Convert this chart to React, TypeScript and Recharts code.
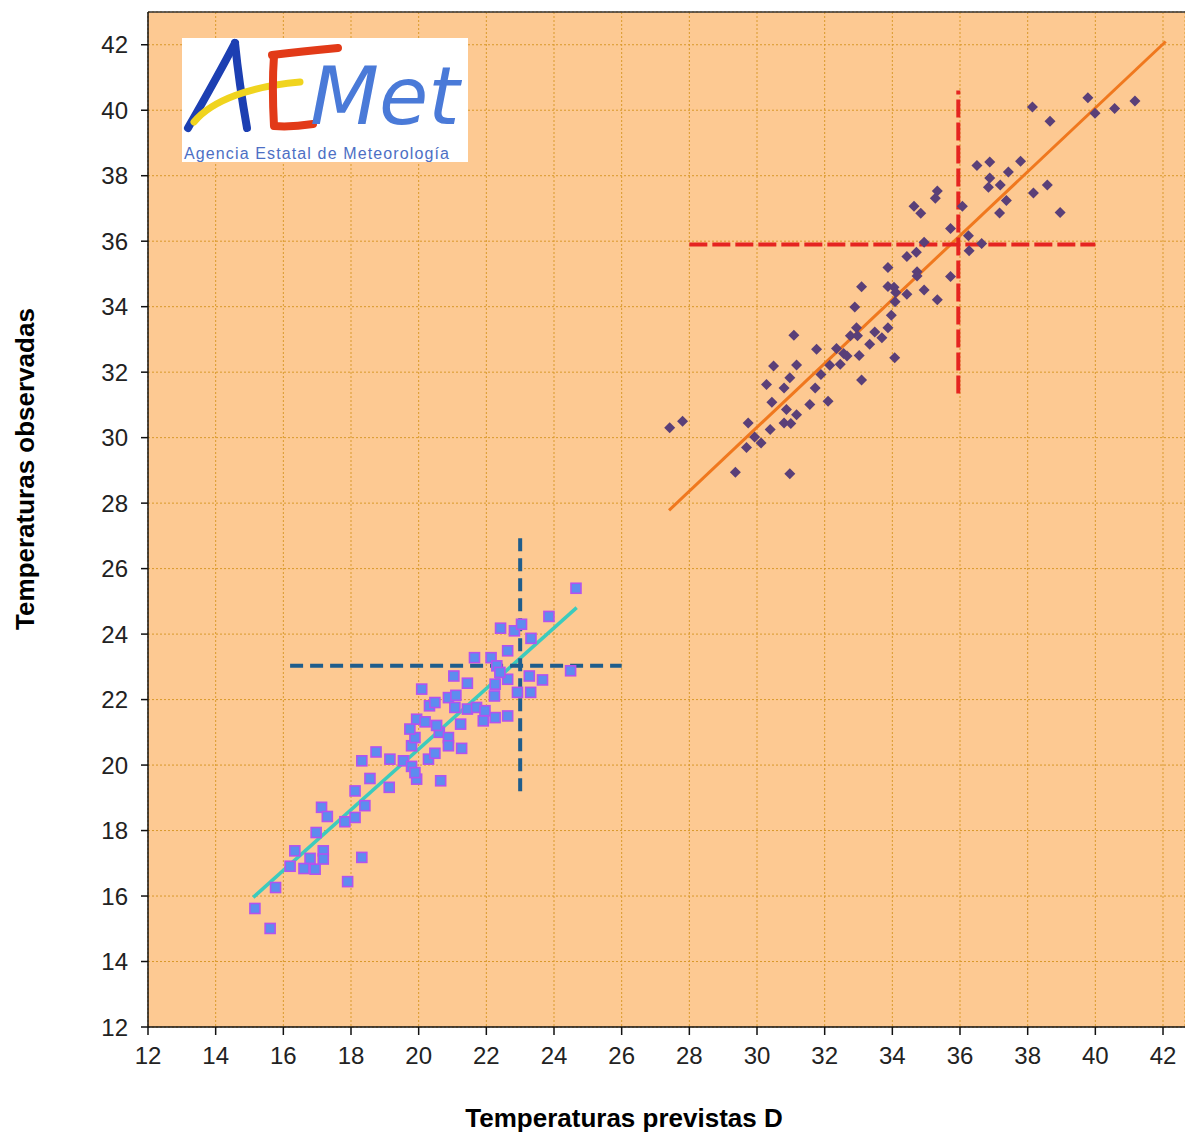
import {
  ScatterChart,
  Scatter,
  XAxis,
  YAxis,
  CartesianGrid,
  ReferenceLine,
  Label,
} from "recharts";

// observed vs forecast, winter-ish group (squares)
const squareX = [
  15.16, 15.61, 15.77, 16.2, 16.34, 16.61, 16.94, 16.79, 17.18, 17.18, 16.97, 17.13, 17.3, 17.9, 18.32,
  17.82, 18.12, 18.41, 18.12, 18.32, 18.74, 18.56, 19.13, 19.15, 19.55, 19.79, 19.79, 19.94, 19.89, 19.89,
  20.29, 20.48, 20.65, 19.94, 20.19, 20.09, 20.32, 20.48, 20.88, 21.1, 21.07, 20.61, 20.88, 20.88, 21.24,
  21.27, 21.04, 21.44, 21.44, 21.71, 21.91, 21.96, 22.26, 22.24, 22.26, 21.65, 22.14, 22.63, 22.31, 22.63,
  22.63, 22.92, 23.31, 23.27, 23.66, 24.49, 22.42, 22.83, 23.04, 23.32, 23.85, 24.65, 22.4, 20.53, 19.74,
];
const squareY = [
  15.62, 15.01, 16.26, 16.91, 17.38, 16.84, 16.82, 17.15, 17.38, 17.13, 17.94, 18.71, 18.43, 16.44, 17.18,
  18.27, 18.4, 18.76, 19.21, 20.13, 20.4, 19.59, 19.32, 20.18, 20.13, 19.96, 20.59, 19.57, 19.77, 20.84,
  20.18, 20.36, 19.52, 21.4, 21.32, 22.32, 21.81, 21.91, 22.06, 22.13, 21.76, 21.0, 20.84, 20.59, 21.25,
  20.51, 22.72, 22.5, 21.71, 21.76, 21.35, 21.66, 21.45, 22.11, 22.47, 23.28, 23.28, 23.49, 23.03, 22.62,
  21.5, 22.22, 22.22, 22.72, 22.6, 22.88, 24.18, 24.1, 24.3, 23.87, 24.54, 25.4, 22.83, 21.21, 21.1,
];

// summer-ish group (diamonds)
const diamondX = [
  27.42, 27.8, 29.36, 30.97, 29.74, 29.69, 29.93, 30.12, 30.39, 30.49, 30.28, 30.44, 30.8, 30.97, 31.17,
  31.09, 30.87, 30.8, 31.0, 31.17, 31.56, 31.72, 31.76, 31.89, 32.1, 32.15, 32.46, 32.56, 32.66, 32.76,
  32.97, 33.02, 33.09, 32.89, 33.09, 33.33, 33.48, 33.69, 33.87, 33.97, 34.07, 34.08, 33.87, 34.05, 33.87,
  34.43, 34.43, 34.71, 34.73, 34.73, 34.94, 35.33, 34.94, 34.64, 34.84, 35.27, 35.33, 35.72, 35.72, 36.07,
  36.25, 36.27, 36.64, 36.5, 36.88, 36.88, 36.84, 37.19, 37.43, 37.37, 37.17, 37.79, 38.14, 38.66, 38.17,
  38.58, 38.96, 39.78, 39.99, 40.57, 41.17, 32.35, 32.94, 34.1,
];
const diamondY = [
  30.3, 30.5, 28.94, 28.9, 30.45, 29.7, 30.02, 29.84, 30.25, 32.19, 31.62, 31.08, 31.52, 31.83, 32.22,
  33.13, 30.86, 30.45, 30.43, 30.7, 31.01, 31.52, 32.7, 31.93, 31.11, 32.21, 32.24, 32.57, 32.49, 33.11,
  33.11, 32.51, 31.76, 33.99, 34.61, 32.85, 33.23, 33.05, 33.36, 33.74, 32.44, 34.15, 34.62, 34.59, 35.2,
  34.38, 35.53, 35.66, 35.07, 34.94, 34.51, 34.21, 35.97, 37.07, 36.85, 37.31, 37.53, 36.39, 34.92, 37.07,
  36.17, 35.71, 35.93, 38.31, 38.42, 37.93, 37.65, 37.72, 38.11, 37.24, 36.86, 38.44, 40.1, 39.66, 37.47,
  37.72, 36.88, 40.38, 39.91, 40.05, 40.28, 32.72, 33.36, 34.43,
];

// fitted lines and reference crosses
const blueFit = [
  { x: 15.11, y: 15.96 },
  { x: 24.67, y: 24.81 },
];
const orangeFit = [
  { x: 27.4, y: 27.78 },
  { x: 42.08, y: 42.1 },
];
const blueCrossH = [
  { x: 16.2, y: 23.03 },
  { x: 26.0, y: 23.03 },
];
const blueCrossV = [
  { x: 23.0, y: 19.2 },
  { x: 23.0, y: 27.0 },
];
const redCrossH = [
  { x: 28.0, y: 35.9 },
  { x: 40.0, y: 35.9 },
];
const redCrossV = [
  { x: 35.95, y: 31.35 },
  { x: 35.95, y: 40.6 },
];

const ticks = [12, 14, 16, 18, 20, 22, 24, 26, 28, 30, 32, 34, 36, 38, 40, 42];

const squares = squareX.map((x, i) => ({ x, y: squareY[i] }));
const diamonds = diamondX.map((x, i) => ({ x, y: diamondY[i] }));

const SquareDot = (props: { cx?: number; cy?: number }) => {
  const { cx, cy } = props;
  if (cx === undefined || cy === undefined) return null;
  return (
    <rect x={cx - 5} y={cy - 5} width={10} height={10} fill="#5d8cef" stroke="#b452ef" strokeWidth={1.6} />
  );
};

const DiamondDot = (props: { cx?: number; cy?: number }) => {
  const { cx, cy } = props;
  if (cx === undefined || cy === undefined) return null;
  const r = 5.5;
  return (
    <polygon
      points={`${cx},${cy - r} ${cx + r},${cy} ${cx},${cy + r} ${cx - r},${cy}`}
      fill="#5a3f78"
    />
  );
};

const XTitle = (props: { viewBox?: { x: number; y: number; width: number; height: number } }) => {
  const vb = props.viewBox;
  if (!vb) return null;
  return (
    <text x={624} y={vb.y + 100} textAnchor="middle" fontWeight="bold" fontSize={26} fill="#000">
      Temperaturas previstas D
    </text>
  );
};

const YTitle = () => (
  <text
    x={34}
    y={469}
    transform="rotate(-90 34 469)"
    textAnchor="middle"
    fontWeight="bold"
    fontSize={26}
    fill="#000"
  >
    Temperaturas observadas
  </text>
);

function Logo() {
  return (
    <svg
      width={286}
      height={124}
      style={{ position: "absolute", left: 182, top: 38 }}
      viewBox="0 0 286 124"
    >
      <rect x={0} y={0} width={286} height={124} fill="#fff" />
      {/* A */}
      <path d="M6 90 C 22 62, 40 30, 53 5" stroke="#1c3fb2" strokeWidth={8} fill="none" strokeLinecap="round" />
      <path d="M53 5 C 56 35, 60 62, 65 90" stroke="#1c3fb2" strokeWidth={8} fill="none" strokeLinecap="round" />
      {/* yellow swoosh */}
      <path d="M12 84 C 30 62, 70 48, 118 44" stroke="#f0d41e" strokeWidth={7} fill="none" strokeLinecap="round" />
      {/* E */}
      <path d="M90 17 C 115 14, 135 12, 156 10" stroke="#e23a18" strokeWidth={8} fill="none" strokeLinecap="round" />
      <path d="M92 18 C 90 45, 91 70, 92 88 C 105 89, 118 88, 131 86" stroke="#e23a18" strokeWidth={8} fill="none" strokeLinecap="round" strokeLinejoin="round" />
      {/* Met */}
      <text x={128} y={86} fontFamily="'DejaVu Sans'" fontStyle="italic" fontSize={80} fill="#4a7ad8" letterSpacing={0}>
        Met
      </text>
      <text x={2} y={121} fontFamily="'Liberation Sans', Arial" fontSize={16} textLength={265} fill="#4d6fc4">
        Agencia Estatal de Meteorología
      </text>
    </svg>
  );
}

export default function App() {
  return (
    <div
      style={{
        position: "fixed",
        left: 0,
        top: 0,
        width: 1185,
        height: 1135,
        overflow: "hidden",
        background: "#fff",
        fontFamily: "'Liberation Sans', Arial, sans-serif",
      }}
    >
      <ScatterChart width={1185} height={1135} margin={{ top: 12, right: 0, bottom: 0, left: 0 }}>
        <CartesianGrid
          fill="#fdc992"
          stroke="#d9992a"
          strokeDasharray="2 2"
          strokeWidth={1}
        />
        <XAxis
          type="number"
          dataKey="x"
          domain={[12, 42.65]}
          ticks={ticks}
          allowDataOverflow
          height={108}
          tickSize={8}
          tickMargin={12}
          tick={{ fill: "#222", fontSize: 24 }}
          stroke="#111"
          strokeWidth={1.5}
        >
          <Label content={<XTitle />} />
        </XAxis>
        <YAxis
          type="number"
          dataKey="y"
          domain={[12, 43]}
          ticks={ticks}
          allowDataOverflow
          width={148}
          tickSize={7}
          tickMargin={13}
          tick={{ fill: "#222", fontSize: 24 }}
          stroke="#111"
          strokeWidth={1.5}
        >
          <Label content={<YTitle />} />
        </YAxis>
        <ReferenceLine y={43} stroke="#333" strokeWidth={1.5} ifOverflow="visible" />
        <Scatter data={squares} shape={<SquareDot />} isAnimationActive={false} />
        <Scatter data={diamonds} shape={<DiamondDot />} isAnimationActive={false} />
        <ReferenceLine segment={blueFit} stroke="#3ccbbd" strokeWidth={3.5} ifOverflow="visible" />
        <ReferenceLine segment={orangeFit} stroke="#f0781e" strokeWidth={3} ifOverflow="visible" />
        <ReferenceLine segment={blueCrossH} stroke="#1f5d8c" strokeWidth={4} strokeDasharray="13 7" ifOverflow="visible" />
        <ReferenceLine segment={blueCrossV} stroke="#1f5d8c" strokeWidth={4} strokeDasharray="13 7" ifOverflow="visible" />
        <ReferenceLine segment={redCrossH} stroke="#e52420" strokeWidth={4} strokeDasharray="18 5" ifOverflow="visible" />
        <ReferenceLine segment={redCrossV} stroke="#e52420" strokeWidth={4} strokeDasharray="18 5" ifOverflow="visible" />
      </ScatterChart>
      <Logo />
    </div>
  );
}
